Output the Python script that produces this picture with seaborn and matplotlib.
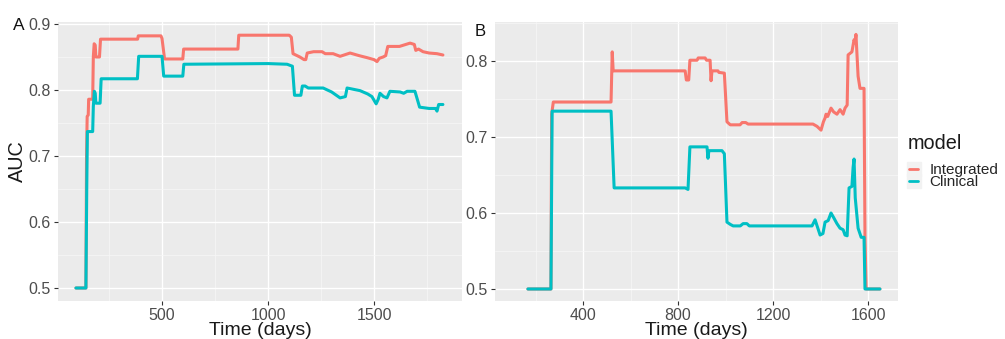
import matplotlib
matplotlib.use("Agg")
import matplotlib.pyplot as plt
import seaborn as sns
import pandas as pd
from matplotlib.lines import Line2D
from matplotlib.ticker import MultipleLocator, FormatStrFormatter

# ---------------- data ----------------
models = ["Integrated", "Clinical"]
colors = ["#F8766D", "#00BFC4"]

a_int_t = [94, 141, 144, 147, 152, 154, 173, 176, 180, 185, 188, 205, 210, 385, 388, 495, 500, 512,
           598, 602, 858, 862, 1100, 1110, 1118, 1150, 1170, 1178, 1185, 1215, 1255, 1270, 1307, 1340,
           1387, 1430, 1467, 1500, 1514, 1525, 1543, 1555, 1565, 1620, 1650, 1670, 1690, 1697, 1710,
           1731, 1760, 1797, 1825]
a_int_v = [0.5, 0.5, 0.70, 0.76, 0.762, 0.786, 0.786, 0.85, 0.87, 0.868, 0.85, 0.85, 0.877, 0.877, 0.882,
           0.882, 0.878, 0.847, 0.847, 0.862, 0.862, 0.883, 0.883, 0.88, 0.855, 0.85, 0.846, 0.846, 0.856,
           0.858, 0.858, 0.855, 0.855, 0.851, 0.856, 0.852, 0.849, 0.846, 0.843, 0.848, 0.85, 0.852, 0.866,
           0.866, 0.869, 0.871, 0.869, 0.86, 0.862, 0.858, 0.856, 0.855, 0.853]

a_cli_t = [94, 141, 145, 148, 173, 176, 181, 185, 188, 208, 213, 384, 390, 500, 508, 598, 603, 1000,
           1090, 1115, 1125, 1155, 1162, 1175, 1190, 1260, 1300, 1340, 1365, 1373, 1434, 1470, 1490, 1510,
           1520, 1528, 1545, 1561, 1575, 1623, 1640, 1656, 1693, 1705, 1715, 1760, 1790, 1797, 1805, 1825]
a_cli_v = [0.5, 0.5, 0.65, 0.737, 0.737, 0.775, 0.798, 0.795, 0.78, 0.78, 0.817, 0.817, 0.851, 0.851,
           0.821, 0.821, 0.839, 0.84, 0.839, 0.836, 0.792, 0.792, 0.806, 0.806, 0.803, 0.803, 0.797, 0.788,
           0.79, 0.803, 0.799, 0.794, 0.79, 0.779, 0.786, 0.795, 0.79, 0.788, 0.798, 0.797, 0.795, 0.798,
           0.798, 0.785, 0.774, 0.772, 0.772, 0.768, 0.778, 0.778]

b_int_t = [168, 265, 268, 275, 518, 523, 527, 830, 835, 845, 850, 880, 885, 914, 920, 935, 939, 943, 968,
           972, 995, 1006, 1020, 1061, 1070, 1085, 1095, 1368, 1385, 1402, 1412, 1419, 1423, 1430, 1444,
           1455, 1469, 1482, 1495, 1503, 1512, 1516, 1532, 1541, 1545, 1549, 1558, 1566, 1583, 1587, 1592,
           1650]
b_int_v = [0.5, 0.5, 0.73, 0.746, 0.746, 0.812, 0.787, 0.787, 0.775, 0.775, 0.801, 0.801, 0.804, 0.804,
           0.801, 0.801, 0.774, 0.787, 0.787, 0.785, 0.784, 0.72, 0.716, 0.716, 0.719, 0.719, 0.717, 0.717,
           0.714, 0.709, 0.72, 0.725, 0.73, 0.727, 0.738, 0.733, 0.73, 0.736, 0.73, 0.738, 0.742, 0.808,
           0.812, 0.828, 0.824, 0.835, 0.78, 0.764, 0.764, 0.568, 0.5, 0.5]

b_cli_t = [168, 265, 270, 518, 531, 830, 842, 850, 922, 926, 930, 985, 995, 1006, 1020, 1032, 1062, 1074,
           1090, 1100, 1364, 1377, 1398, 1410, 1419, 1432, 1444, 1455, 1469, 1482, 1495, 1503, 1512, 1520,
           1532, 1537, 1541, 1546, 1552, 1558, 1571, 1583, 1587, 1650]
b_cli_v = [0.5, 0.5, 0.734, 0.734, 0.633, 0.633, 0.631, 0.687, 0.687, 0.672, 0.682, 0.682, 0.678, 0.588,
           0.585, 0.583, 0.583, 0.586, 0.586, 0.583, 0.583, 0.591, 0.571, 0.573, 0.588, 0.59, 0.6, 0.594,
           0.586, 0.58, 0.578, 0.571, 0.57, 0.633, 0.635, 0.66, 0.671, 0.62, 0.6, 0.58, 0.568, 0.568, 0.5,
           0.5]

panel_labels = ["A", "B"]
x_label = "Time (days)"
y_label = "AUC"
legend_title = "model"


def make_df(t_int, v_int, t_cli, v_cli):
    d1 = pd.DataFrame({"time": t_int, "AUC": v_int, "model": models[0]})
    d2 = pd.DataFrame({"time": t_cli, "AUC": v_cli, "model": models[1]})
    return pd.concat([d1, d2], ignore_index=True)


dfA = make_df(a_int_t, a_int_v, a_cli_t, a_cli_v)
dfB = make_df(b_int_t, b_int_v, b_cli_t, b_cli_v)

# ---------------- style ----------------
sns.set_theme(style="darkgrid")
plt.rcParams["font.family"] = ["Liberation Sans", "DejaVu Sans"]
plt.rcParams["axes.facecolor"] = "#EBEBEB"

W, H = 1005, 339
fig = plt.figure(figsize=(W / 100, H / 100), dpi=100)
axA = fig.add_axes([58 / W, 38 / H, 404 / W, 279 / H])
axB = fig.add_axes([495 / W, 38 / H, 403 / W, 279 / H])

pal = dict(zip(models, colors))

for ax, df in [(axA, dfA), (axB, dfB)]:
    sns.lineplot(data=df, x="time", y="AUC", hue="model", palette=pal, hue_order=models,
                 estimator=None, sort=False, lw=2.2, ax=ax, legend=False)

axA.set_xlim(9.4, 1915)
axA.set_ylim(0.4803, 0.903)
axA.xaxis.set_major_locator(MultipleLocator(500))
axA.xaxis.set_minor_locator(MultipleLocator(250))
axB.set_xlim(29.5, 1726)
axB.set_ylim(0.4842, 0.8513)
axB.xaxis.set_major_locator(MultipleLocator(400))
axB.xaxis.set_minor_locator(MultipleLocator(200))

for ax in (axA, axB):
    ax.set_facecolor("#EBEBEB")
    ax.yaxis.set_major_locator(MultipleLocator(0.1))
    ax.yaxis.set_minor_locator(MultipleLocator(0.05))
    ax.yaxis.set_major_formatter(FormatStrFormatter("%.1f"))
    ax.grid(which="major", color="white", linewidth=1.0)
    ax.grid(which="minor", color="#F7F7F7", linewidth=0.5)
    ax.set_axisbelow(True)
    for s in ax.spines.values():
        s.set_visible(False)
    ax.tick_params(which="major", length=3, width=0.8, color="#333333", labelsize=11.5,
                   labelcolor="#4D4D4D", pad=2, bottom=True, left=True)
    ax.tick_params(which="minor", length=0)
    ax.set_xlabel(x_label, fontsize=14, color="#1a1a1a", labelpad=-1)

axA.set_ylabel(y_label, fontsize=14.3, color="#1a1a1a")
axA.yaxis.set_label_coords((27 - 58) / 404, 0.5)
axB.set_ylabel("")

fig.text(19 / W, 1 - 26 / H, panel_labels[0], fontsize=12.5, ha="center", va="center", color="#111111")
fig.text(480 / W, 1 - 32 / H, panel_labels[1], fontsize=12, ha="center", va="center", color="#111111")

# legend: title as text, keys with ggplot-like light key background
fig.text(908 / W, 1 - 143 / H, legend_title, fontsize=14.3, ha="left", va="center", color="#1a1a1a")
handles = [(Line2D([0], [0], marker="s", markersize=10, color="#F2F2F2", linestyle="none"),
            Line2D([0], [0], color=c, lw=2.0)) for c in colors]
fig.legend(handles, models, loc="upper left", bbox_to_anchor=(909 / W, 1 - 163 / H),
           frameon=False, fontsize=11, handlelength=0.6, handletextpad=0.75, labelspacing=-0.1,
           borderpad=0, borderaxespad=0)

fig.savefig("out.png", dpi=100)
